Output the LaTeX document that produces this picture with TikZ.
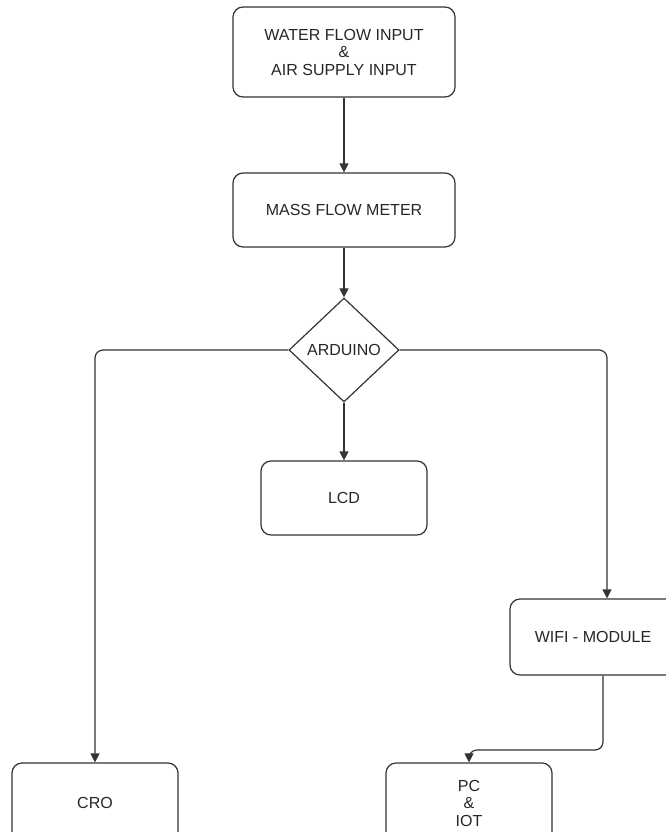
\documentclass[tikz,border=0pt]{standalone}
\usepackage{fontspec}
\setmainfont{Liberation Sans}
\usetikzlibrary{shapes.geometric,arrows.meta}

\begin{document}
\begin{tikzpicture}[x=1pt,y=-1pt,
  every node/.style={font=\fontsize{16}{17.5}\selectfont,align=center,text=black!85},
  box/.style={draw=black!80,line width=1.2pt,rounded corners=10pt,minimum width=166pt,minimum height=74pt},
  bigbox/.style={box,minimum width=222pt},
  decision/.style={draw=black!80,line width=1.2pt,diamond,inner sep=0pt,minimum width=110pt,minimum height=104pt},
  arr/.style={draw=black!80,line width=1.2pt,rounded corners=8pt,-{Triangle[length=9pt,width=9pt]}}
]
\useasboundingbox (0,0) rectangle (666,832);
\clip (0,0) rectangle (666,832);
% main column
\node[bigbox,minimum height=90pt] (input) at (344,52) {WATER FLOW INPUT\\\&\\AIR SUPPLY INPUT};
\node[bigbox] (meter) at (344,210) {MASS FLOW METER};
\node[decision] (ard) at (344,350) {ARDUINO};
\node[box] (lcd) at (344,498) {LCD};
% outputs
\node[box,minimum width=166pt,minimum height=76pt] (wifi) at (593,637) {WIFI - MODULE};
\node[box,minimum height=80pt] (cro) at (95,803) {CRO};
\node[box,minimum height=80pt] (pc) at (469,803) {PC\\\&\\IOT};
\coordinate (wifiin) at ([xshift=14pt]wifi.north);
\coordinate (wifiout) at ([xshift=10pt]wifi.south);
\coordinate (bend) at (469,750);
\draw[arr] (input) -- (meter);
\draw[arr] (meter) -- (ard);
\draw[arr] (ard) -- (lcd);
\draw[arr] (ard.west) -| (cro.north);
\draw[arr] (ard.east) -| (wifiin);
\draw[arr] (wifiout) |- (bend) -- (pc.north);
\end{tikzpicture}
\end{document}
